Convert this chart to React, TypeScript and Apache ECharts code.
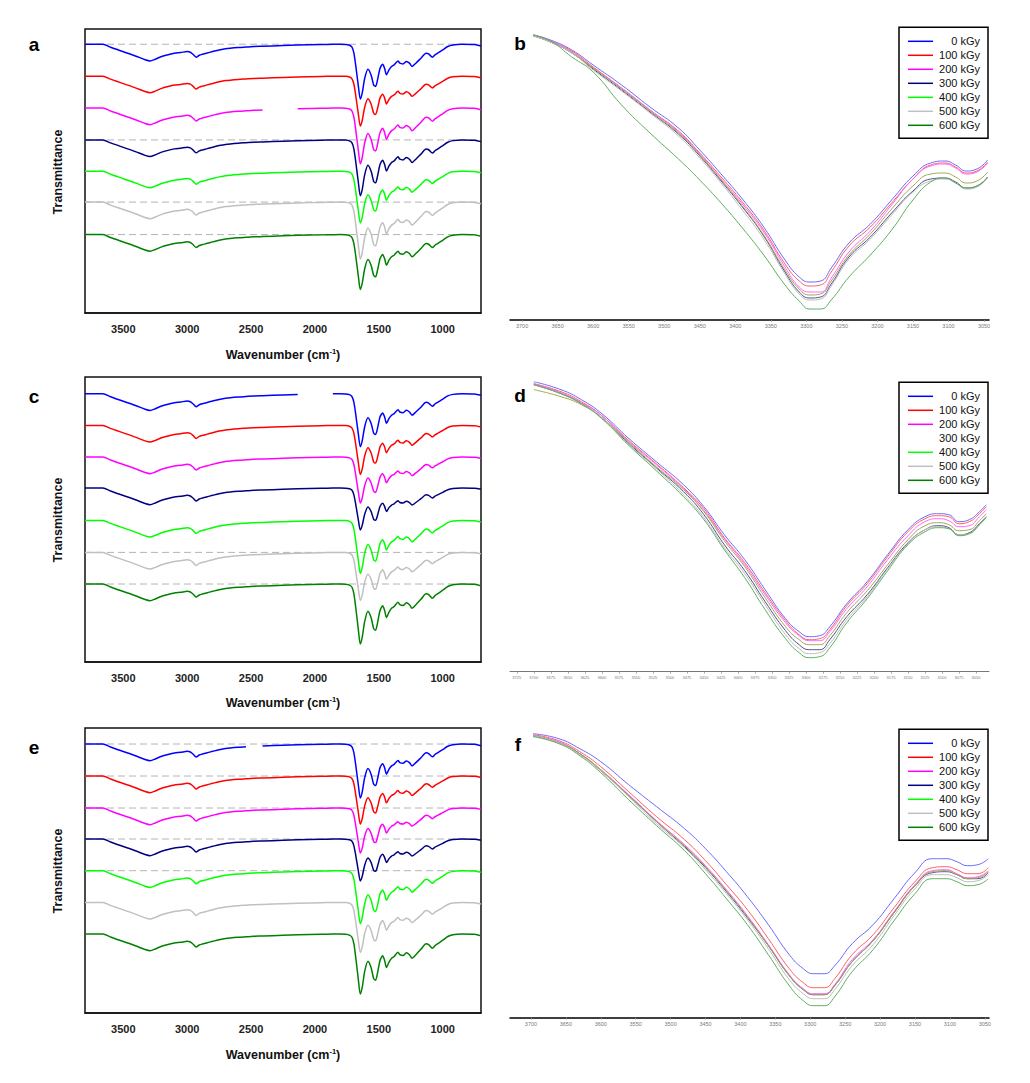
import React, { useEffect, useRef } from 'react';
import * as echarts from 'echarts';

const FONT = '"Liberation Sans", Arial, Helvetica, sans-serif';

const NAMES = ['0 kGy', '100 kGy', '200 kGy', '300 kGy', '400 kGy', '500 kGy', '600 kGy'];
const COLORS = ['#0000ff', '#ff0000', '#ff00ff', '#000080', '#00ff00', '#c0c0c0', '#008000'];
const THIN_COLORS = ['#6a6aff', '#ff6060', '#ff66ff', '#505090', '#a5a552', '#bdbdbd', '#5fae5f'];

// ---- full spectra (panels a, c, e): absorption depth profile ----
const profileW = [3800, 3660, 3600, 3500, 3400, 3330, 3290, 3250, 3200, 3150, 3100, 3050, 3000, 2975, 2955, 2930, 2905, 2880, 2850, 2800,
  2750, 2700, 2600, 2540, 2480, 2410, 2250, 2135, 1950, 1860, 1800, 1760, 1730, 1710, 1695, 1680, 1660, 1645, 1630, 1610, 1585,
  1560, 1540, 1525, 1510, 1490, 1470, 1455, 1440, 1420, 1400, 1380, 1350, 1335, 1310, 1285, 1260, 1240, 1210, 1170, 1130,
  1110, 1080, 1060, 1040, 1000, 960, 920, 850, 750, 700];
const profileDepth = [0, 0, 3, 7.5, 12, 15.5, 16.7, 15, 12.3, 10.5, 9, 8.3, 7.3, 8, 10, 13, 11, 10, 9, 7.3,
  5.7, 4.5, 3.3, 2.8, 2.3, 2, 1.3, 0.8, 0.3, 0.1, 0, 0.2, 1, 3, 9, 22, 42, 55, 49, 34, 25,
  31, 41, 42.3, 35.7, 24, 20, 24, 30.7, 25.7, 22.3, 20.7, 16.7, 19, 19.7, 17.3, 19, 22.3, 19, 14, 9,
  9.7, 13, 10.7, 9, 5.7, 2.3, 0.7, 0, 0.3, 1.7];
const PROFILE_AMIDE_REF = 55;

// stacking offsets (baselines) and amide I depth of each trace
const baselineA = [269.7, 237.7, 205.7, 173.7, 142.3, 111.3, 78.7];
const amideDepthA = [55, 50, 56, 56, 52, 57, 55];
const baselineC = [268.3, 236.6, 205, 174, 141.6, 109.6, 78];
const amideDepthC = [53, 49, 46, 42, 53, 48, 60];
const baselineE = [269, 237, 205, 174, 142.3, 110.6, 79];
const amideDepthE = [54, 48, 45, 42, 53, 50, 60];

// recording gaps [from, to] by trace index
const gapsA: Record<number, number[]> = { 2: [2410, 2135] };
const gapsC: Record<number, number[]> = { 0: [2135, 1860] };
const gapsE: Record<number, number[]> = { 0: [2540, 2410] };

// dashed reference baselines (trace indices)
const dashedA = [0, 3, 5, 6];
const dashedC = [5, 6];
const dashedE = [0, 1, 2, 3, 4];

const ticksFull = [3500, 3000, 2500, 2000, 1500, 1000];

// ---- O-H region zooms (panels b, d, f) ----
const bW = [3684, 3660, 3630, 3600, 3560, 3520, 3480, 3450, 3420, 3390, 3360, 3330, 3310, 3295, 3280, 3265, 3240, 3210, 3180, 3150, 3125, 3105, 3090, 3075, 3060, 3045];
const b0 = [285, 280, 270, 255, 235, 213, 192, 170, 146, 121, 93, 60, 43, 38, 39, 52, 77, 96, 120, 144, 157, 159, 155, 149, 151, 160];
const b100 = [285, 279, 269, 253, 232, 210, 189, 167, 143, 118, 90, 56, 39, 34, 35, 48, 74, 93, 117, 141, 155, 157, 153, 147, 149, 158];
const b200 = [285, 279, 268, 252, 232, 210, 188, 166, 141, 116, 88, 53, 33, 28, 28, 42, 68, 89, 115, 141, 154, 156, 152, 146, 148, 157];
const b300 = [284, 278, 267, 251, 230, 208, 186, 164, 139, 113, 84, 48, 28, 22, 23, 36, 63, 83, 107, 129, 141, 142, 138, 132, 134, 143];
const b400 = [284, 278, 267, 252, 231, 209, 187, 165, 140, 114, 85, 50, 31, 25, 26, 39, 65, 86, 111, 134, 146, 147, 143, 137, 139, 148];
const b500 = [284, 278, 267, 250, 229, 207, 184, 162, 137, 110, 81, 46, 26, 20, 21, 34, 61, 81, 105, 128, 139, 141, 137, 131, 133, 142];
const b600 = [285, 279, 263, 248, 215, 187, 161, 140, 117, 92, 65, 35, 19, 11, 11, 20, 43, 65, 90, 120, 138, 142, 137, 132, 134, 143];

const dW = [3700, 3660, 3630, 3600, 3560, 3520, 3480, 3450, 3420, 3390, 3360, 3330, 3310, 3295, 3280, 3265, 3240, 3210, 3180, 3150, 3125, 3105, 3090, 3075, 3060, 3045, 3035];
const d0 = [290, 282, 272, 258, 233, 210, 187, 165, 137, 112, 82, 53, 40, 35, 36, 45, 68, 90, 117, 142, 155, 158, 157, 150, 152, 160, 167];
const d100 = [288, 280, 270, 256, 231, 208, 184, 163, 134, 109, 79, 51, 37, 32, 33, 42, 66, 88, 115, 140, 153, 156, 155, 148, 150, 158, 165];
const d200 = [288, 279, 269, 256, 230, 207, 183, 161, 133, 107, 77, 49, 36, 31, 31, 40, 63, 85, 112, 136, 150, 153, 151, 145, 146, 155, 162];
const d300 = [287, 278, 268, 254, 228, 204, 180, 157, 127, 101, 70, 41, 27, 22, 22, 32, 55, 77, 104, 129, 142, 146, 144, 137, 139, 148, 155];
const d400 = [282, 275, 267, 254, 229, 205, 182, 160, 131, 105, 74, 45, 32, 27, 27, 36, 59, 81, 107, 132, 146, 149, 147, 141, 142, 151, 158];
const d500 = [287, 278, 268, 254, 227, 203, 177, 154, 124, 98, 67, 37, 23, 18, 19, 28, 52, 75, 103, 128, 142, 145, 143, 137, 138, 147, 155];
const d600 = [287, 278, 268, 253, 226, 201, 175, 152, 122, 94, 62, 33, 19, 14, 15, 24, 49, 73, 101, 127, 140, 144, 143, 136, 138, 147, 154];

const fW = [3697, 3660, 3630, 3600, 3560, 3520, 3480, 3450, 3420, 3390, 3360, 3330, 3310, 3295, 3280, 3265, 3240, 3210, 3180, 3150, 3125, 3105, 3090, 3075, 3060, 3045];
const f0 = [284, 279, 269, 256, 233, 211, 189, 169, 146, 121, 93, 63, 49, 44, 44, 52, 74, 93, 119, 145, 159, 159, 156, 152, 153, 159];
const f100 = [283, 277, 266, 251, 226, 201, 178, 157, 133, 108, 79, 49, 35, 30, 30, 39, 63, 83, 110, 136, 150, 151, 148, 144, 144, 150];
const f200 = [282, 276, 264, 248, 223, 197, 173, 152, 128, 102, 73, 43, 29, 24, 24, 33, 58, 78, 106, 133, 147, 148, 144, 140, 141, 147];
const f300 = [282, 275, 264, 247, 222, 196, 171, 150, 126, 100, 72, 42, 28, 23, 23, 32, 56, 77, 105, 132, 145, 146, 143, 139, 139, 145];
const f400 = [282, 275, 264, 248, 222, 196, 172, 151, 127, 101, 72, 42, 28, 23, 23, 32, 56, 77, 105, 132, 146, 147, 143, 139, 140, 146];
const f500 = [282, 275, 263, 247, 221, 194, 170, 148, 124, 98, 69, 38, 24, 19, 19, 28, 52, 73, 102, 129, 143, 143, 140, 136, 137, 143];
const f600 = [281, 274, 262, 245, 218, 192, 167, 144, 119, 93, 63, 32, 17, 12, 12, 21, 46, 68, 97, 124, 139, 139, 136, 132, 133, 139];

const ticksB = [3700, 3650, 3600, 3550, 3500, 3450, 3400, 3350, 3300, 3250, 3200, 3150, 3100, 3050];
const ticksD = [3725, 3700, 3675, 3650, 3625, 3600, 3575, 3550, 3525, 3500, 3475, 3450, 3425, 3400, 3375, 3350, 3325, 3300, 3275, 3250, 3225, 3200, 3175, 3150, 3125, 3100, 3075, 3050];
const ticksF = [3700, 3650, 3600, 3550, 3500, 3450, 3400, 3350, 3300, 3250, 3200, 3150, 3100, 3050];

const PANEL_LETTERS = ['a', 'b', 'c', 'd', 'e', 'f'];

function stackedTrace(base: number, amide: number, gap?: number[]) {
  return profileW.map((w, i) => {
    if (gap && w < gap[0] && w > gap[1]) return [w, null];
    const s = w < 1800 ? amide / PROFILE_AMIDE_REF : 1;
    return [w, +(base - profileDepth[i] * s).toFixed(2)];
  });
}

const plainNum = (v: number) => String(v);

function buildOption() {
  const leftGrids = [
    { left: 85, top: 29, width: 396, height: 284 },
    { left: 85, top: 377, width: 396, height: 285 },
    { left: 85, top: 728, width: 396, height: 285 },
  ];
  const rightGrids = [
    { left: 510, top: 30, width: 479, height: 290 },
    { left: 510, top: 381.7, width: 479, height: 290 },
    { left: 510, top: 727.7, width: 479, height: 290 },
  ];
  const grid: any[] = [];
  const xAxis: any[] = [];
  const yAxis: any[] = [];
  const series: any[] = [];

  const leftSets = [
    { base: baselineA, amide: amideDepthA, gaps: gapsA, dashed: dashedA },
    { base: baselineC, amide: amideDepthC, gaps: gapsC, dashed: dashedC },
    { base: baselineE, amide: amideDepthE, gaps: gapsE, dashed: dashedE },
  ];
  const rightSets = [
    { w: bW, ys: [b0, b100, b200, b300, b400, b500, b600], min: 3043, max: 3717, ticks: ticksB, axisColor: '#000', axisWidth: 1.5, fs: 5.5, margin: 3 },
    { w: dW, ys: [d0, d100, d200, d300, d400, d500, d600], min: 3031, max: 3735, ticks: ticksD, axisColor: '#777', axisWidth: 1, fs: 4, margin: 4 },
    { w: fW, ys: [f0, f100, f200, f300, f400, f500, f600], min: 3044, max: 3730, ticks: ticksF, axisColor: '#000', axisWidth: 1.5, fs: 5.5, margin: 3 },
  ];

  for (let row = 0; row < 3; row++) {
    // left panel
    const gl = grid.length;
    grid.push({ ...leftGrids[row], show: true, borderColor: '#111', borderWidth: 1.5, backgroundColor: 'transparent' });
    xAxis.push({
      type: 'value', gridIndex: gl, min: 700, max: 3800, inverse: true,
      axisLine: { show: true, lineStyle: { color: '#111', width: 1.5 } },
      axisTick: { show: false },
      splitLine: { show: false },
      axisLabel: { customValues: ticksFull, formatter: plainNum, fontWeight: 'bold', fontSize: 11, color: '#222', margin: 10, fontFamily: FONT },
    });
    yAxis.push({ type: 'value', gridIndex: gl, min: 0, max: 285, show: false });
    const set = leftSets[row];
    set.dashed.forEach((k) => {
      series.push({
        type: 'line', xAxisIndex: gl, yAxisIndex: gl, silent: true, showSymbol: false, z: 1,
        data: [[3800, set.base[k]], [700, set.base[k]]],
        lineStyle: { color: '#b4b4b4', width: 1, type: [7, 4] },
      });
    });
    NAMES.forEach((n, k) => {
      series.push({
        name: n, type: 'line', xAxisIndex: gl, yAxisIndex: gl, silent: true, showSymbol: false, z: 3,
        smooth: 0.25, connectNulls: false,
        data: stackedTrace(set.base[k], set.amide[k], set.gaps[k]),
        itemStyle: { color: COLORS[k] },
        lineStyle: { color: COLORS[k], width: 1.5 },
      });
    });

    // right panel
    const gr = grid.length;
    const rs = rightSets[row];
    grid.push({ ...rightGrids[row], show: false });
    xAxis.push({
      type: 'value', gridIndex: gr, min: rs.min, max: rs.max, inverse: true,
      axisLine: { show: true, lineStyle: { color: rs.axisColor, width: rs.axisWidth } },
      axisTick: { show: true, customValues: rs.ticks, length: 2, lineStyle: { color: '#999', width: 0.8 } },
      splitLine: { show: false },
      axisLabel: { customValues: rs.ticks, formatter: plainNum, fontSize: rs.fs, color: '#7a7a7a', margin: rs.margin, fontFamily: FONT },
    });
    yAxis.push({ type: 'value', gridIndex: gr, min: 0, max: 290, show: false });
    NAMES.forEach((n, k) => {
      series.push({
        name: n, type: 'line', xAxisIndex: gr, yAxisIndex: gr, silent: true, showSymbol: false, z: 3,
        smooth: true,
        data: rs.w.map((w, i) => [w, rs.ys[k][i]]),
        itemStyle: { color: THIN_COLORS[k] },
        lineStyle: { color: THIN_COLORS[k], width: 1 },
      });
    });
  }

  const legendTops = [27.3, 382.3, 729.3];
  const legend = legendTops.map((top, li) => ({
    orient: 'vertical', left: 899, top, padding: [7, 8, 6, 9], itemGap: 0,
    itemWidth: 25, itemHeight: 1.5, icon: 'rect', selectedMode: false,
    borderColor: '#000', borderWidth: 1.5, backgroundColor: '#fff',
    formatter: (n: string) => `{r|${n}}`,
    textStyle: {
      fontSize: 11, color: '#111', fontFamily: FONT, lineHeight: 14,
      rich: { r: { width: 42, align: 'right', fontSize: 11, lineHeight: 14, fontFamily: FONT, color: '#111' } },
    },
    data: NAMES.map((n, k) => ({
      name: n,
      itemStyle: { color: li === 1 && k === 3 ? 'rgba(0,0,0,0)' : COLORS[k] },
    })),
  }));

  const letterPos = [[34, 44], [520, 43], [34, 396], [520, 395], [34, 747], [518, 744]];
  const graphic: any[] = [];
  letterPos.forEach((p, i) => {
    graphic.push({
      type: 'text', x: p[0], y: p[1], silent: true,
      style: { text: PANEL_LETTERS[i], fontSize: 19, fontWeight: 'bold', fontFamily: FONT, fill: '#000', align: 'center', verticalAlign: 'middle' },
    });
  });
  [172, 520, 871].forEach((y) => {
    graphic.push({
      type: 'text', x: 58, y, rotation: Math.PI / 2, silent: true,
      style: { text: 'Transmittance', fontSize: 12.5, fontWeight: 'bold', fontFamily: FONT, fill: '#111', align: 'center', verticalAlign: 'middle' },
    });
  });
  [355, 703, 1055].forEach((y) => {
    graphic.push({
      type: 'text', x: 283, y, silent: true,
      style: {
        text: '{a|Wavenumber (cm}{s|-1}{a|)}', align: 'center', verticalAlign: 'middle',
        rich: {
          a: { fontSize: 12.5, fontWeight: 'bold', fontFamily: FONT, fill: '#111', lineHeight: 16 },
          s: { fontSize: 7.5, fontWeight: 'bold', fontFamily: FONT, fill: '#111', verticalAlign: 'top', lineHeight: 9 },
        },
      },
    });
  });

  return {
    animation: false,
    backgroundColor: '#fff',
    grid, xAxis, yAxis, series, legend, graphic,
  };
}

export default function App() {
  const ref = useRef<HTMLDivElement>(null);
  useEffect(() => {
    document.body.style.margin = '0';
    const chart = echarts.init(ref.current!, null, { renderer: 'svg' });
    chart.setOption(buildOption() as any);
    return () => chart.dispose();
  }, []);
  return <div ref={ref} style={{ width: 1030, height: 1083 }} />;
}
